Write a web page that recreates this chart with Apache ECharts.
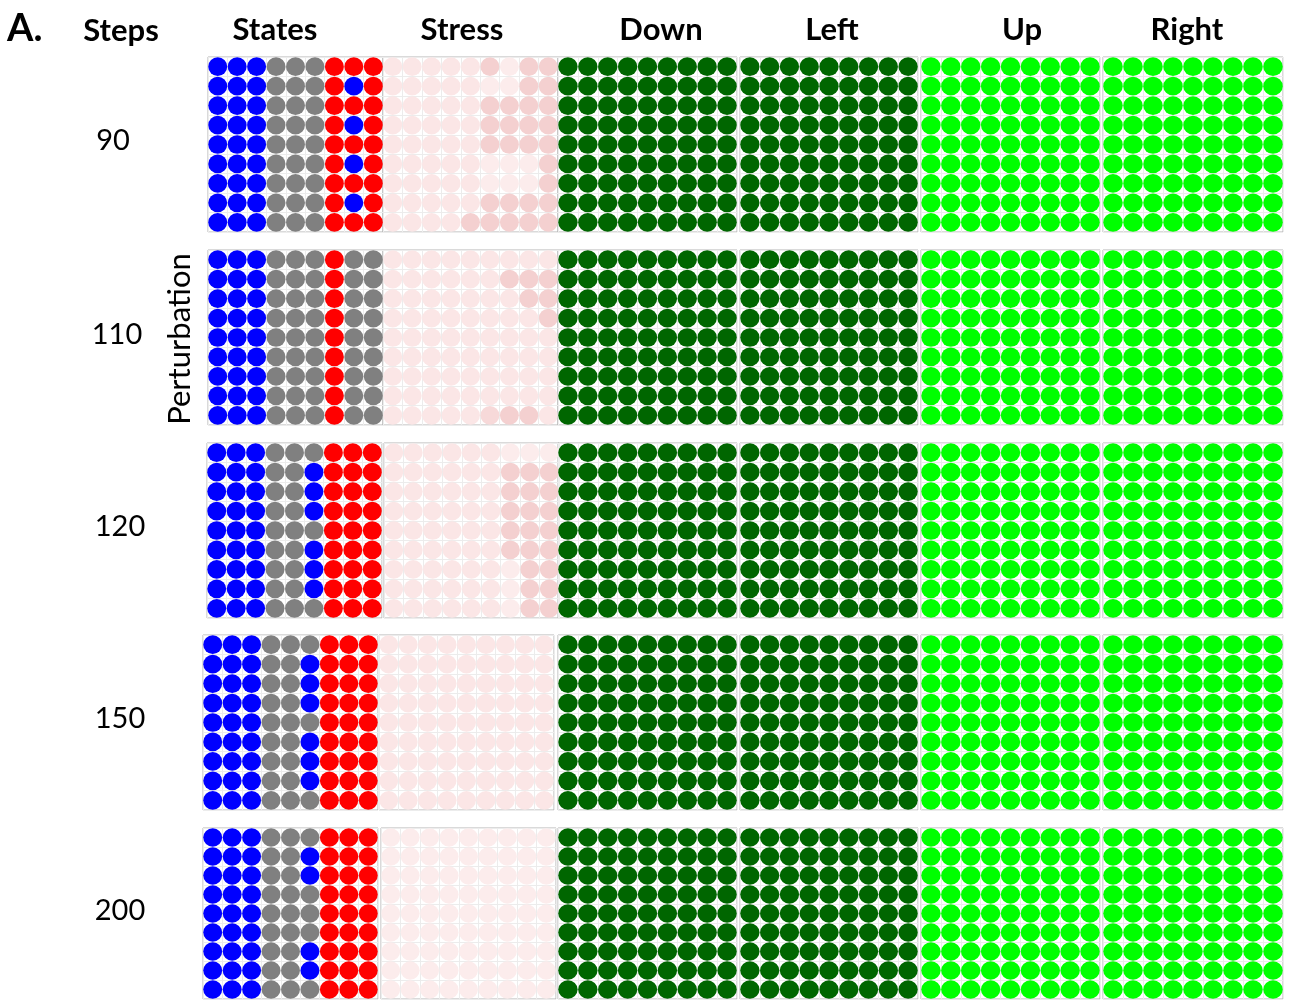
<!DOCTYPE html>
<html>
<head>
<meta charset="utf-8">
<script src="https://cdn.jsdelivr.net/npm/echarts@6/dist/echarts.min.js"></script>
<style>
  html, body { margin: 0; background: #fff; }
  #main { width: 1294px; height: 1004px; }
</style>
</head>
<body>
<div id="main"></div>
<script>
// row labels (simulation steps) and panel headers
const steps = ['90', '110', '120', '150', '200'];
const panels = ['States', 'Stress', 'Down', 'Left', 'Up', 'Right'];

// agent state per cell, one string per grid row: B = blue, G = grey, R = red
const states90 = ['BBBGGGRRR', 'BBBGGGRBR', 'BBBGGGRRR', 'BBBGGGRBR', 'BBBGGGRRR',
                  'BBBGGGRBR', 'BBBGGGRRR', 'BBBGGGRBR', 'BBBGGGRRR'];
const states110 = ['BBBGGGRGG', 'BBBGGGRGG', 'BBBGGGRGG', 'BBBGGGRGG', 'BBBGGGRGG',
                   'BBBGGGRGG', 'BBBGGGRGG', 'BBBGGGRGG', 'BBBGGGRGG'];
const states120 = ['BBBGGGRRR', 'BBBGGBRRR', 'BBBGGBRRR', 'BBBGGBRRR', 'BBBGGGRRR',
                   'BBBGGBRRR', 'BBBGGBRRR', 'BBBGGBRRR', 'BBBGGGRRR'];
const states150 = ['BBBGGGRRR', 'BBBGGBRRR', 'BBBGGBRRR', 'BBBGGBRRR', 'BBBGGGRRR',
                   'BBBGGBRRR', 'BBBGGBRRR', 'BBBGGBRRR', 'BBBGGGRRR'];
const states200 = ['BBBGGGRRR', 'BBBGGBRRR', 'BBBGGBRRR', 'BBBGGGRRR', 'BBBGGGRRR',
                   'BBBGGGRRR', 'BBBGGBRRR', 'BBBGGBRRR', 'BBBGGGRRR'];

// stress level per cell, 0 (faintest) .. 3 (strongest)
const stress90 = ['111113033', '111110033', '111113333', '111113333', '111113333',
                  '111110003', '111110003', '111113333', '111133333'];
const stress110 = ['111111111', '111111333', '111111133', '111111113', '111111111',
                   '111111111', '111111111', '111111111', '111112331'];
const stress120 = ['111111000', '111111333', '111111333', '111111333', '111111333',
                   '111111333', '111111033', '111111033', '111111033'];
const stress150 = ['111111111', '111111111', '111111111', '111111111', '111111111',
                   '111111111', '111111111', '111111111', '111111111'];
const stress200 = ['000000000', '000000000', '000000000', '000000000', '000000000',
                   '000000000', '000000000', '000000000', '000000000'];

// action panels are filled uniformly: Down, Left dark; Up, Right bright
const actionTone = ['dark', 'dark', 'bright', 'bright'];

const statesByStep = [states90, states110, states120, states150, states200];
const stressByStep = [stress90, stress110, stress120, stress150, stress200];

// colours
const stateColor = { B: '#0000ff', G: '#808080', R: '#ff0000' };
const stressColor = ['#fcecec', '#fbe6e6', '#f7d9d9', '#f4d0d0'];
const toneColor = { dark: '#006600', bright: '#00ff00' };

// layout of the panels (pixels)
const colLeft = [208, 383, 558, 740, 921, 1103];
const colWidth = [175, 175, 179, 178, 179, 180];
const rowTop = [57, 250, 443, 635, 828];
const rowHeight = [175, 175, 175, 175, 171];
const rowShift = [[0, 0], [0, 0], [-1, 1], [-5, -4], [-5, -2]]; // States / Stress x shift per row
const headerX = [275, 462, 661, 832, 1022, 1187];
const stepX = [113, 117, 120, 120, 120];
const stepY = [141, 335, 527, 719, 911];

const N = 9;
const cats = Array.from({ length: N }, (_, i) => i);

const grid = [], xAxis = [], yAxis = [], series = [];

function cellColor(r, c, i, j) {
  if (c === 0) return stateColor[statesByStep[r][i][j]];
  if (c === 1) return stressColor[Number(stressByStep[r][i][j])];
  return toneColor[actionTone[c - 2]];
}

steps.forEach((s, r) => {
  panels.forEach((p, c) => {
    const shift = c < 2 ? rowShift[r][c] : 0;
    const left = colLeft[c] + shift;
    const w = colWidth[c], h = rowHeight[r];
    const k = grid.length;
    grid.push({
      left: left, top: rowTop[r], width: w, height: h,
      show: true, borderColor: '#b4b4b4', borderWidth: 1, backgroundColor: '#fff'
    });
    const ax = {
      type: 'category', data: cats, gridIndex: k,
      axisLine: { show: false }, axisTick: { show: false }, axisLabel: { show: false },
      splitLine: { show: true, lineStyle: { color: '#ececec', width: 1 } }
    };
    xAxis.push(Object.assign({}, ax));
    yAxis.push(Object.assign({ inverse: true }, ax));
    const data = [];
    for (let i = 0; i < N; i++) {
      for (let j = 0; j < N; j++) {
        data.push({ value: [j, i], itemStyle: { color: cellColor(r, c, i, j), opacity: 1 } });
      }
    }
    series.push({
      type: 'scatter', xAxisIndex: k, yAxisIndex: k,
      symbol: 'circle',
      symbolSize: [w / N - 0.5, h / N - 0.7],
      itemStyle: { opacity: 1 },
      silent: true, animation: false,
      data: data
    });
  });
});

const headFont = 'bold 31px Lato, "Open Sans", sans-serif';
const numFont = '29px Lato, "Open Sans", sans-serif';
const graphic = [
  { type: 'text', x: 7, y: 29, style: { text: 'A.', font: 'bold 38px Lato, sans-serif', fill: '#000', textVerticalAlign: 'middle' } },
  { type: 'text', x: 121, y: 31, style: { text: 'Steps', font: headFont, fill: '#000', textAlign: 'center', textVerticalAlign: 'middle' } },
  { type: 'text', x: 180, y: 339, rotation: Math.PI / 2,
    style: { text: 'Perturbation', font: '31px Lato, "Open Sans", sans-serif', fill: '#000', textAlign: 'center', textVerticalAlign: 'middle' } }
];
panels.forEach((p, c) => {
  graphic.push({ type: 'text', x: headerX[c], y: 30,
    style: { text: p, font: headFont, fill: '#000', textAlign: 'center', textVerticalAlign: 'middle' } });
});
steps.forEach((s, r) => {
  graphic.push({ type: 'text', x: stepX[r], y: stepY[r],
    style: { text: s, font: numFont, fill: '#000', textAlign: 'center', textVerticalAlign: 'middle' } });
});

const chart = echarts.init(document.getElementById('main'));
chart.setOption({
  backgroundColor: '#fff',
  animation: false,
  grid: grid,
  xAxis: xAxis,
  yAxis: yAxis,
  series: series,
  graphic: graphic
});
</script>
</body>
</html>
